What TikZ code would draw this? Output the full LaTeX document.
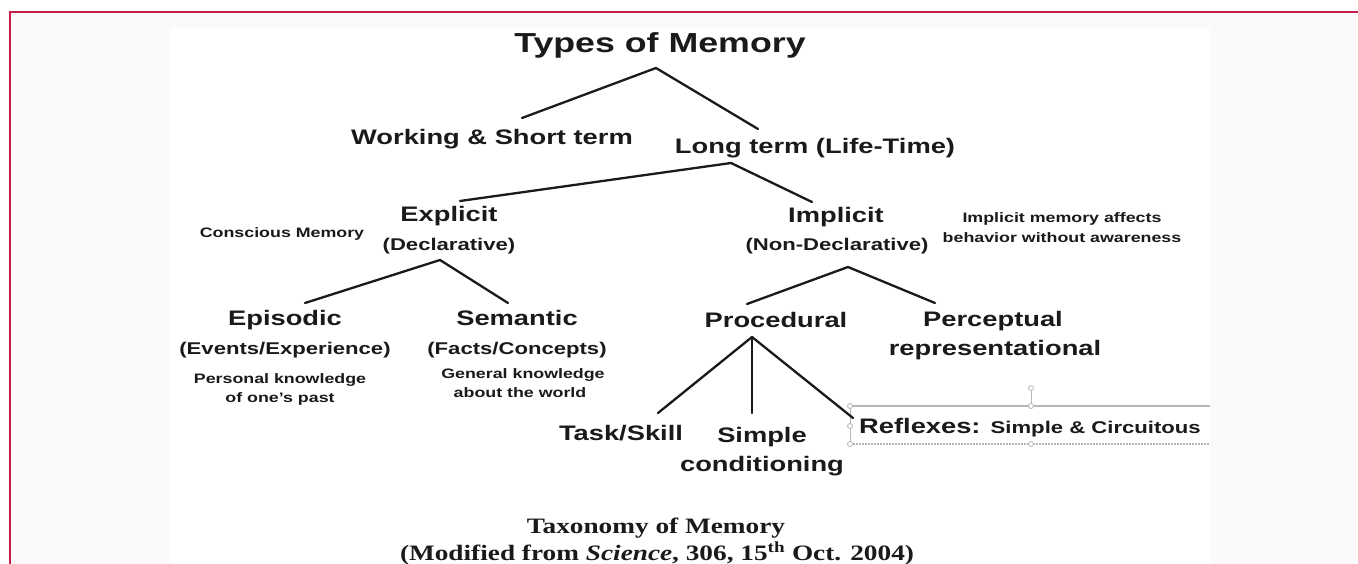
\documentclass[tikz,border=0pt]{standalone}
\usepackage{fontspec}
\setmainfont{Liberation Sans}[FakeStretch=1.3]
\newfontfamily\capfont{Liberation Serif}[FakeStretch=1.24]
\definecolor{framered}{HTML}{C41E4A}
\definecolor{pagebg}{HTML}{FBF9FA}
\definecolor{ink}{HTML}{1A1A1A}
\definecolor{selgray}{HTML}{B5B5B5}
\begin{document}
\begin{tikzpicture}[x=1pt,y=-1pt,
  lbl/.style={inner sep=0pt, anchor=base, text=ink},
  ttl/.style={lbl, font=\bfseries\fontsize{27.5}{30}\selectfont},
  lg/.style={lbl, font=\bfseries\fontsize{21}{25}\selectfont},
  md/.style={lbl, font=\bfseries\fontsize{17}{20}\selectfont},
  sm/.style={lbl, font=\bfseries\fontsize{13.7}{16}\selectfont},
  captxt/.style={lbl, font=\capfont\bfseries\fontsize{22}{26}\selectfont},
  conn/.style={draw=ink, line width=2.3pt, line cap=round, line join=round},
  sel/.style={draw=selgray, line width=1.3pt},
  handle/.style={circle, draw=selgray, fill=white, line width=0.8pt, inner sep=0pt, minimum size=5pt}
]
\useasboundingbox (0,0) rectangle (1358,564);
\fill[white] (0,0) rectangle (1358,564);
\fill[pagebg] (10,12) rectangle (1358,564);
\fill[white] (170,28) rectangle (1210,564);
\draw[framered, line width=1.4pt] (10,564) -- (10,12) -- (1358,12);

% texts
\node[ttl] (title) at (660,53) {Types of Memory};
\node[lg] (work) at (492,145) {Working \& Short term};
\node[lg] (long) at (815,154) {Long term (Life-Time)};
\node[lg] (explicit) at (449,222) {Explicit};
\node[md] (decl) at (449,251) {(Declarative)};
\node[sm] (conscious) at (282,238) {Conscious Memory};
\node[lg] (implicit) at (836,223) {Implicit};
\node[md] (nondecl) at (837,251) {(Non-Declarative)};
\node[sm] (impnote) at (1062,223) {Implicit memory affects};
\node[sm] (impnoteb) at (1062,243) {behavior without awareness};
\node[lg] (episodic) at (285,325) {Episodic};
\node[md] (events) at (285,354) {(Events/Experience)};
\node[sm] (personal) at (280,383) {Personal knowledge};
\node[sm] (past) at (280,402) {of one's past};
\node[lg] (semantic) at (517,325) {Semantic};
\node[md] (facts) at (517,354) {(Facts/Concepts)};
\node[sm] (general) at (523,378) {General knowledge};
\node[sm] (world) at (520,397) {about the world};
\node[lg] (procedural) at (776,327) {Procedural};
\node[lg] (perceptual) at (993,326) {Perceptual};
\node[lg] (represent) at (995,355) {representational};
\node[lg] (task) at (621,440) {Task/Skill};
\node[lg] (simple) at (762,442) {Simple};
\node[lg] (cond) at (762,471) {conditioning};
\node[captxt] (taxo) at (656,533) {Taxonomy of Memory};
\node[captxt] (modified) at (657,560) {(Modified from \textit{Science}, 306, 15\textsuperscript{th} Oct. 2004)};

% reflexes text box (selected)
\coordinate (bxTL) at (850,406);
\coordinate (bxTM) at (1031,406);
\coordinate (bxTR) at (1210,406);
\coordinate (bxBL) at (850,444);
\coordinate (bxBM) at (1031,444);
\coordinate (bxBR) at (1210,444);
\coordinate (bxLM) at (850,426);
\draw[sel] (bxTL) -- (bxTR);
\draw[sel, dash pattern=on 2pt off 1pt] (bxBL) -- (bxBR);
\draw[sel, line width=0.8pt] (bxTL) -- (bxBL);
\node[handle] (rot) at (1031,388) {};
\draw[sel, line width=1pt] (rot) -- (bxTM);
\foreach \h in {bxTL,bxTM,bxBL,bxBM,bxLM} \node[handle] at (\h) {};
\node[lbl, anchor=base west] (reflexes) at (859,433) {\bfseries\fontsize{21}{25}\selectfont Reflexes: \fontsize{17}{20}\selectfont Simple \& Circuitous};

% connector points
\coordinate (tA) at (656,68);
\coordinate (tL) at (522,118);
\coordinate (tR) at (758,129);
\coordinate (lA) at (731,163);
\coordinate (lL) at (460,201);
\coordinate (lR) at (812,202);
\coordinate (eA) at (440,260);
\coordinate (eL) at (305,303);
\coordinate (eR) at (508,303);
\coordinate (iA) at (848,267);
\coordinate (iL) at (747,304);
\coordinate (iR) at (935,303);
\coordinate (pA) at (752,337);
\coordinate (pL) at (658,413);
\coordinate (pM) at (752,413);
\coordinate (pR) at (853,418);

\draw[conn] (tL) -- (tA) -- (tR);
\draw[conn] (lL) -- (lA) -- (lR);
\draw[conn] (eL) -- (eA) -- (eR);
\draw[conn] (iL) -- (iA) -- (iR);
\draw[conn] (pL) -- (pA) -- (pR);
\draw[conn] (pA) -- (pM);
\end{tikzpicture}
\end{document}
